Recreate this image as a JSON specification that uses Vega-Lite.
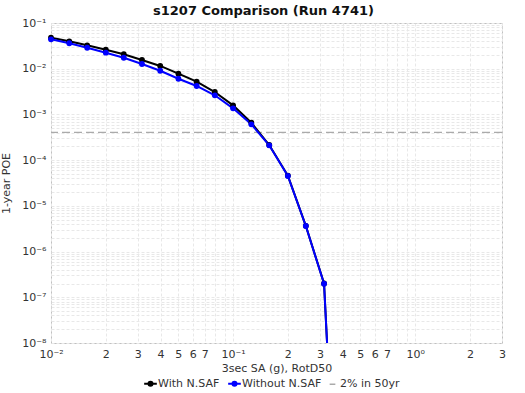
{
  "$schema": "https://vega.github.io/schema/vega-lite/v6.json",
  "width": 451,
  "height": 320,
  "autosize": "none",
  "padding": {"left": 51, "top": 23, "right": 23, "bottom": 50},
  "config": {
    "font": "DejaVu Sans",
    "view": {"stroke": "#c0c0c0"},
    "axis": {
      "grid": true,
      "gridColor": "#e8e8e8",
      "gridDash": [3, 2],
      "ticks": false,
      "domain": false,
      "labelFontSize": 11,
      "labelColor": "#333333",
      "labelOverlap": false,
      "labelBound": false,
      "labelFlush": false,
      "titleFontSize": 11,
      "titleFontWeight": "normal",
      "titleColor": "#333333"
    }
  },
  "title": {
    "text": "s1207 Comparison (Run 4741)",
    "fontSize": 13,
    "fontWeight": "bold",
    "color": "#111111",
    "dx": -13,
    "offset": -1
  },
  "datasets": {
    "curves": [
      {"series": "With N.SAF", "sa": 0.01, "poe": 0.0477},
      {"series": "With N.SAF", "sa": 0.0126, "poe": 0.0398},
      {"series": "With N.SAF", "sa": 0.0158, "poe": 0.0325},
      {"series": "With N.SAF", "sa": 0.02, "poe": 0.0261},
      {"series": "With N.SAF", "sa": 0.0251, "poe": 0.0207},
      {"series": "With N.SAF", "sa": 0.0316, "poe": 0.0155},
      {"series": "With N.SAF", "sa": 0.0398, "poe": 0.0115},
      {"series": "With N.SAF", "sa": 0.0501, "poe": 0.00778},
      {"series": "With N.SAF", "sa": 0.0631, "poe": 0.0052},
      {"series": "With N.SAF", "sa": 0.0794, "poe": 0.00309},
      {"series": "With N.SAF", "sa": 0.1, "poe": 0.00158},
      {"series": "With N.SAF", "sa": 0.126, "poe": 0.000659},
      {"series": "With N.SAF", "sa": 0.158, "poe": 0.000214},
      {"series": "With N.SAF", "sa": 0.2, "poe": 0.000046},
      {"series": "With N.SAF", "sa": 0.251, "poe": 0.00000365},
      {"series": "With N.SAF", "sa": 0.316, "poe": 0.0000002},
      {"series": "With N.SAF", "sa": 0.398, "poe": 3e-15},
      {"series": "Without N.SAF", "sa": 0.01, "poe": 0.044},
      {"series": "Without N.SAF", "sa": 0.0126, "poe": 0.036},
      {"series": "Without N.SAF", "sa": 0.0158, "poe": 0.0288},
      {"series": "Without N.SAF", "sa": 0.02, "poe": 0.0224},
      {"series": "Without N.SAF", "sa": 0.0251, "poe": 0.0174},
      {"series": "Without N.SAF", "sa": 0.0316, "poe": 0.0127},
      {"series": "Without N.SAF", "sa": 0.0398, "poe": 0.00904},
      {"series": "Without N.SAF", "sa": 0.0501, "poe": 0.00604},
      {"series": "Without N.SAF", "sa": 0.0631, "poe": 0.00419},
      {"series": "Without N.SAF", "sa": 0.0794, "poe": 0.00262},
      {"series": "Without N.SAF", "sa": 0.1, "poe": 0.00136},
      {"series": "Without N.SAF", "sa": 0.126, "poe": 0.000608},
      {"series": "Without N.SAF", "sa": 0.158, "poe": 0.000211},
      {"series": "Without N.SAF", "sa": 0.2, "poe": 0.000045},
      {"series": "Without N.SAF", "sa": 0.251, "poe": 0.00000362},
      {"series": "Without N.SAF", "sa": 0.316, "poe": 0.000000198},
      {"series": "Without N.SAF", "sa": 0.398, "poe": 3e-15}
    ],
    "ref": [{"series": "2% in 50yr", "poe": 0.000404}]
  },
  "encoding": {
    "y": {
      "field": "poe",
      "type": "quantitative",
      "scale": {"type": "log", "domain": [1e-8, 0.1], "nice": false},
      "axis": {
        "title": "1-year POE",
        "titlePadding": 10,
        "labelPadding": 5,
        "values": [1e-8,2e-8,3e-8,4e-8,5e-8,6e-8,7e-8,8e-8,9e-8,
                   1e-7,2e-7,3e-7,4e-7,5e-7,6e-7,7e-7,8e-7,9e-7,
                   1e-6,2e-6,3e-6,4e-6,5e-6,6e-6,7e-6,8e-6,9e-6,
                   1e-5,2e-5,3e-5,4e-5,5e-5,6e-5,7e-5,8e-5,9e-5,
                   1e-4,2e-4,3e-4,4e-4,5e-4,6e-4,7e-4,8e-4,9e-4,
                   1e-3,2e-3,3e-3,4e-3,5e-3,6e-3,7e-3,8e-3,9e-3,
                   1e-2,2e-2,3e-2,4e-2,5e-2,6e-2,7e-2,8e-2,9e-2,0.1],
        "labelExpr": "abs(log(datum.value)/LN10 - round(log(datum.value)/LN10)) < 0.001 ? '10' + ['⁻¹','⁻²','⁻³','⁻⁴','⁻⁵','⁻⁶','⁻⁷','⁻⁸'][round(-log(datum.value)/LN10) - 1] : ''"
      }
    },
    "color": {
      "field": "series",
      "type": "nominal",
      "scale": {"domain": ["With N.SAF", "Without N.SAF", "2% in 50yr"], "range": ["#000000", "#0000ff", "#aaaaaa"]},
      "legend": {
        "title": null,
        "orient": "none",
        "direction": "horizontal",
        "legendX": 94,
        "legendY": 355,
        "labelFontSize": 11,
        "labelColor": "#333333",
        "symbolSize": 160,
        "symbolStrokeWidth": 2,
        "columnPadding": 4,
        "labelOffset": 2,
        "encode": {
          "symbols": {
            "update": {
              "shape": {"signal": "datum.value == '2% in 50yr' ? 'M-0.45,0L0.45,0' : 'M-1,0L1,0M-0.32,0A0.32,0.32 0 1 1 0.32,0A0.32,0.32 0 1 1 -0.32,0'"},
              "fill": {"signal": "datum.value == '2% in 50yr' ? 'transparent' : scale('color', datum.value)"},
              "stroke": {"signal": "scale('color', datum.value)"},
              "strokeWidth": {"signal": "datum.value == '2% in 50yr' ? 1.5 : 2"},
              "opacity": {"value": 1}
            }
          }
        }
      }
    }
  },
  "layer": [
    {
      "data": {"name": "ref"},
      "mark": {"type": "rule", "strokeDash": [8, 4], "strokeWidth": 1.3}
    },
    {
      "data": {"name": "curves"},
      "mark": {"type": "line", "clip": true, "strokeWidth": 2},
      "encoding": {
        "x": {
          "field": "sa",
          "type": "quantitative",
          "scale": {"type": "log", "domain": [0.01, 3], "nice": false},
          "axis": {
            "title": "3sec SA (g), RotD50",
            "titlePadding": 3,
            "labelPadding": 5,
            "values": [0.01,0.02,0.03,0.04,0.05,0.06,0.07,0.08,0.09,0.1,0.2,0.3,0.4,0.5,0.6,0.7,0.8,0.9,1,2,3],
            "labelExpr": "datum.value == 0.01 ? '10⁻²' : datum.value == 0.1 ? '10⁻¹' : datum.value == 1 ? '10⁰' : (round(datum.value / (datum.value < 0.1 ? 0.01 : datum.value < 1 ? 0.1 : 1)) >= 8 ? '' : format(datum.value / (datum.value < 0.1 ? 0.01 : datum.value < 1 ? 0.1 : 1), '.0f'))"
          }
        }
      }
    },
    {
      "data": {"name": "curves"},
      "transform": [{"filter": "datum.poe >= 1e-8"}],
      "mark": {"type": "circle", "size": 34, "opacity": 1},
      "encoding": {
        "x": {"field": "sa", "type": "quantitative", "scale": {"type": "log", "domain": [0.01, 3], "nice": false}}
      }
    }
  ]
}
